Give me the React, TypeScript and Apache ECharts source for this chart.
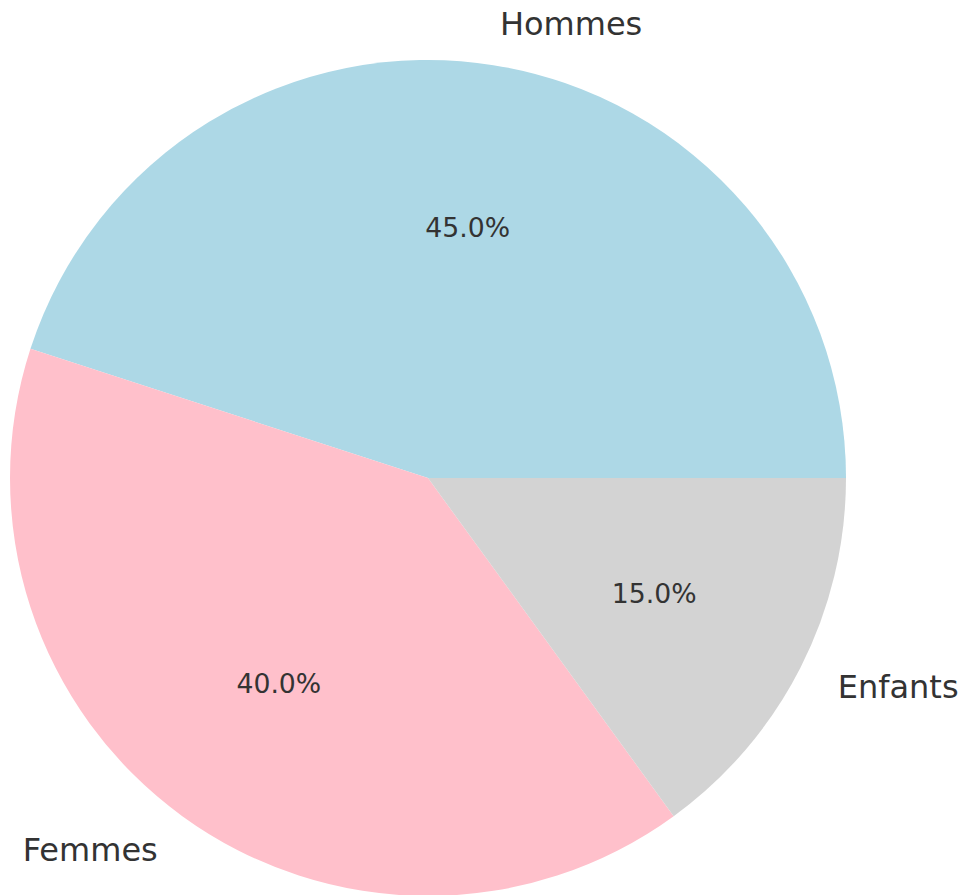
import React, { useEffect, useRef } from "react";
import * as echarts from "echarts";

const categories = ["Hommes", "Femmes", "Enfants"];
const values = [45, 40, 15];
const colors = ["#ADD8E6", "#FFC0CB", "#D3D3D3"];

const R = 418;
const FONT = "DejaVu Sans";

export default function App() {
  const ref = useRef<HTMLDivElement>(null);
  useEffect(() => {
    document.body.style.margin = "0";
    if (!ref.current) return;
    const chart = echarts.init(ref.current, null, { renderer: "svg" });
    const total = values.reduce((a, b) => a + b, 0);
    const data = categories.map((name, i) => ({
      name,
      value: values[i],
      itemStyle: { color: colors[i] },
    }));
    chart.setOption({
      animation: false,
      backgroundColor: "#ffffff",
      series: [
        {
          type: "pie",
          center: [428, 478],
          radius: [0, R],
          startAngle: 0,
          clockwise: false,
          avoidLabelOverlap: false,
          silent: true,
          data,
          label: {
            show: true,
            position: "outside",
            color: "#333333",
            fontFamily: FONT,
            fontSize: 32,
            distanceToLabelLine: 0,
          },
          labelLine: { show: false, length: R * 0.1, length2: 0 },
        },
        {
          type: "pie",
          center: [428, 478],
          radius: [R * 0.2, R],
          startAngle: 0,
          clockwise: false,
          avoidLabelOverlap: false,
          silent: true,
          data: data.map((d) => ({ ...d, itemStyle: { color: "rgba(0,0,0,0)" } })),
          label: {
            show: true,
            position: "inside",
            rotate: 0,
            color: "#333333",
            fontFamily: FONT,
            fontSize: 26.7,
            formatter: (p: any) => ((p.value / total) * 100).toFixed(1) + "%",
          },
          labelLine: { show: false },
        },
      ],
    });
    return () => chart.dispose();
  }, []);
  return <div ref={ref} style={{ width: 964, height: 895 }} />;
}
